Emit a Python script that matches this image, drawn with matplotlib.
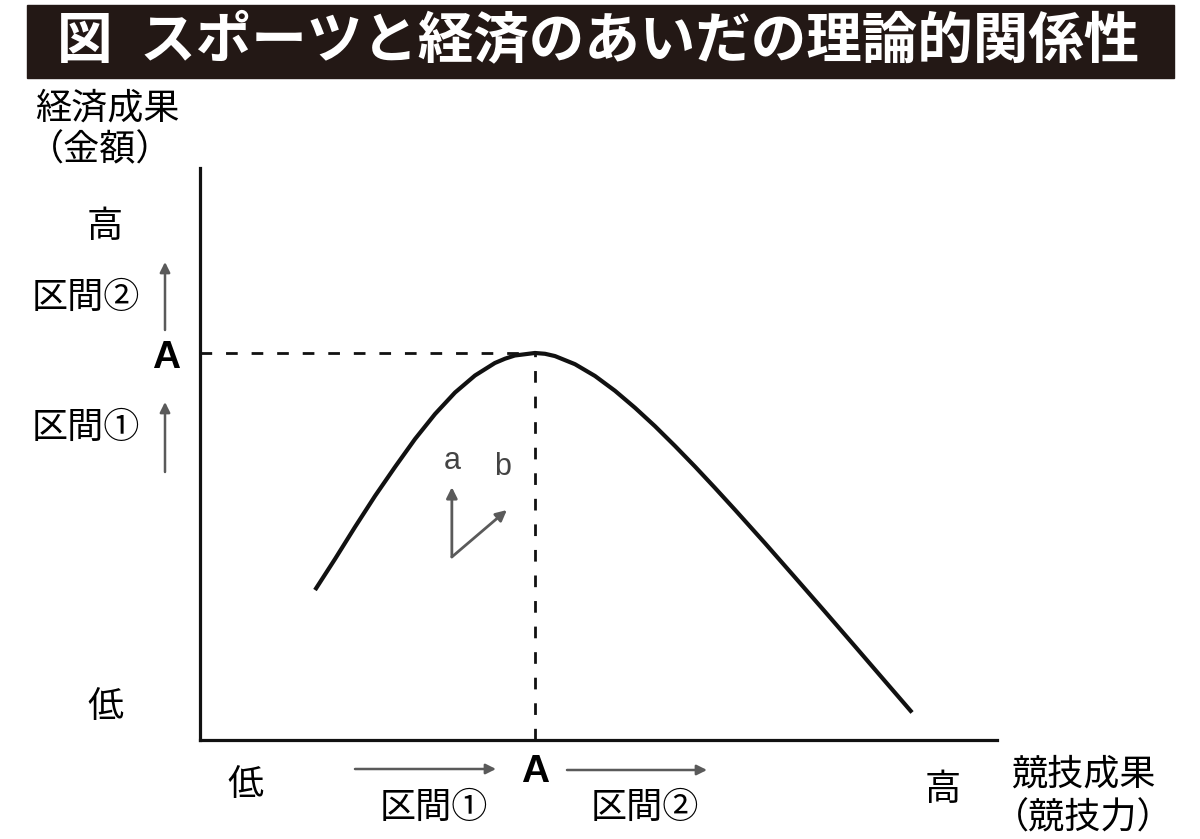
import matplotlib
matplotlib.use("Agg")
import matplotlib.pyplot as plt
from matplotlib.patches import Rectangle, FancyArrowPatch

plt.rcParams['font.family'] = ['Noto Sans CJK JP', 'DejaVu Sans']

# 曲線（競技成果 → 経済成果）, 0-100 の相対スケール
skill = [14.43, 16.94, 19.45, 21.96, 24.47, 26.98, 29.49, 32.00, 34.50, 37.00,
         38.27, 39.50, 42.03, 43.29, 44.54, 47.05, 49.56, 52.07, 54.58, 57.09,
         59.60, 62.11, 64.62, 67.13, 70.89, 74.65, 78.42, 82.18, 85.95, 89.34]
money = [26.22, 31.64, 37.24, 42.66, 47.73, 52.62, 56.99, 60.75, 63.72, 65.91,
         66.66, 67.22, 67.66, 67.52, 67.12, 65.70, 63.64, 61.05, 58.08, 54.86,
         51.40, 47.80, 44.06, 40.24, 34.41, 28.44, 22.43, 16.38, 10.28, 4.81]
peak_x, peak_y = 42.03, 67.66

# ベクトル a, b
vec_origin = (31.6, 32.0)
vec_a = (31.6, 44.2)
vec_b = (38.5, 40.2)

title = '図\u2002スポーツと経済のあいだの理論的関係性'
W, H = 1200, 839


def fp(px, py):
    # ピクセル位置 → figure fraction
    return px / W, 1 - py / H


fig = plt.figure(figsize=(12, 8.39), dpi=100)
ax = fig.add_axes([200 / W, 1 - 740 / H, 797 / W, 572 / H])
ax.set_xlim(0, 100)
ax.set_ylim(0, 100)
for s in ['top', 'right']:
    ax.spines[s].set_visible(False)
for s in ['left', 'bottom']:
    ax.spines[s].set_linewidth(2.3)
    ax.spines[s].set_color('#111111')
ax.set_xticks([])
ax.set_yticks([])

ax.plot(skill, money, color='#111111', lw=3.0, solid_capstyle='butt',
        solid_joinstyle='round')
ax.plot([0, peak_x], [peak_y, peak_y], color='#111111', lw=2.0, dashes=(4.2, 5.0))
ax.plot([peak_x, peak_x], [0, peak_y], color='#111111', lw=2.0, dashes=(4.2, 5.0))

gray = '#5a5a5a'
arr = dict(arrowstyle='-|>', color=gray, lw=2.0, mutation_scale=16, shrinkA=0, shrinkB=0)
ax.annotate('', xy=vec_a, xytext=vec_origin, arrowprops=arr)
ax.annotate('', xy=vec_b, xytext=vec_origin, arrowprops=arr)
ax.text(vec_a[0], vec_a[1] + 4.5, 'a', fontsize=22, color='#444444',
        family='Liberation Sans', ha='center', va='center')
ax.text(vec_b[0] - 0.5, vec_b[1] + 7.5, 'b', fontsize=22, color='#444444',
        family='Liberation Sans', ha='center', va='center')

# タイトル
fig.patches.append(Rectangle(fp(27, 78), 1147 / W, 73 / H, transform=fig.transFigure,
                             color='#231815', zorder=0))
fig.text(*fp(598, 41), title, color='white', fontsize=40, fontweight='bold',
         ha='center', va='center')

# 縦軸ラベル
fs = 26
fig.text(*fp(107, 108), '経済成果', fontsize=fs, ha='center', va='center')
fig.text(*fp(100, 150), '（金額）', fontsize=fs, ha='center', va='center')
fig.text(*fp(105, 227), '高', fontsize=fs, ha='center', va='center')
fig.text(*fp(86, 298), '区間②', fontsize=fs, ha='center', va='center')
fig.text(*fp(166, 358), 'A', fontsize=28, fontweight='bold', family='Liberation Sans',
         ha='center', va='center')
fig.text(*fp(86, 428), '区間①', fontsize=fs, ha='center', va='center')
fig.text(*fp(105, 707), '低', fontsize=fs, ha='center', va='center')

farr = dict(arrowstyle='-|>', color=gray, lw=1.8, mutation_scale=15, shrinkA=0, shrinkB=0)
fig.add_artist(FancyArrowPatch(fp(165, 330), fp(165, 262), transform=fig.transFigure, **farr))
fig.add_artist(FancyArrowPatch(fp(165, 472), fp(165, 402), transform=fig.transFigure, **farr))

# 横軸ラベル
fig.text(*fp(245, 785), '低', fontsize=fs, ha='center', va='center')
fig.text(*fp(535, 772), 'A', fontsize=28, fontweight='bold', family='Liberation Sans',
         ha='center', va='center')
fig.text(*fp(434, 808), '区間①', fontsize=fs, ha='center', va='center')
fig.text(*fp(645, 808), '区間②', fontsize=fs, ha='center', va='center')
fig.text(*fp(943, 790), '高', fontsize=fs, ha='center', va='center')
fig.text(*fp(1083, 775), '競技成果', fontsize=fs, ha='center', va='center')
fig.text(*fp(1083, 819), '（競技力）', fontsize=fs, ha='center', va='center')
fig.add_artist(FancyArrowPatch(fp(355, 769), fp(496, 769), transform=fig.transFigure, **farr))
fig.add_artist(FancyArrowPatch(fp(567, 770), fp(707, 770), transform=fig.transFigure, **farr))

fig.savefig('out.png', dpi=100, facecolor='white')
